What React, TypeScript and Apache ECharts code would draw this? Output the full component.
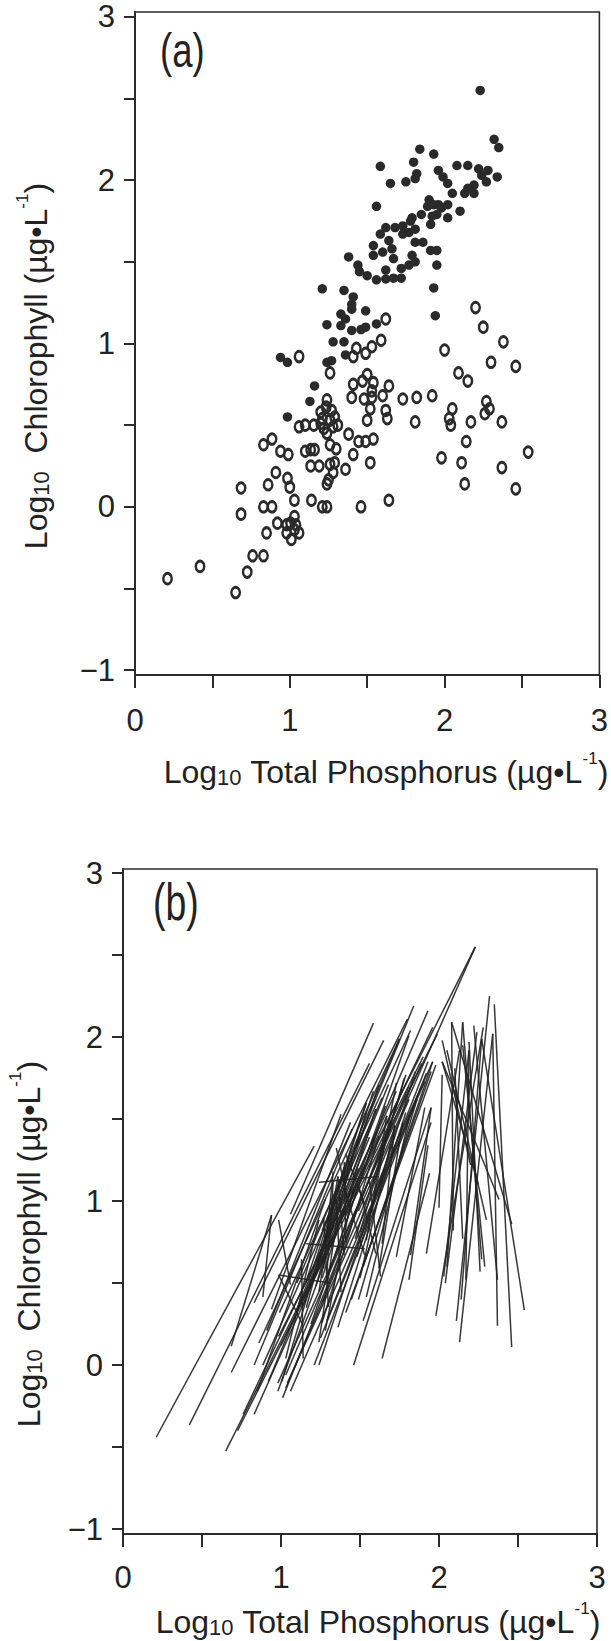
import React, { useEffect, useRef } from "react";
import * as echarts from "echarts";

// ---- Panel (a): filled circles (Log10 TP, Log10 Chl) ----
const filledTP = [
  2.23, 2.32, 2.35, 1.84, 1.93, 1.80, 1.585, 2.08, 2.15, 1.96, 1.82, 1.81, 1.99, 2.22, 2.28, 2.24, 2.34, 2.27, 2.02, 1.65,
  1.75, 2.19, 2.15, 2.13, 2.19, 2.05, 1.56, 1.90, 1.89, 1.93, 1.96, 2.02, 1.98, 2.10, 2.02, 1.85, 1.79, 1.78, 1.92, 1.95,
  1.91, 1.62, 1.585, 1.68, 1.73, 1.73, 1.77, 1.81, 1.64, 1.81, 1.86, 1.54, 1.54, 1.60, 1.66, 1.67, 1.91, 1.95, 1.79, 1.81,
  1.38, 1.44, 1.95, 1.45, 1.50, 1.56, 1.62, 1.67, 1.72, 1.62, 1.72, 1.77, 1.93, 1.94, 1.21, 1.35, 1.41, 1.40, 1.40, 1.49,
  1.33, 1.36, 1.24, 1.33, 1.40, 1.46, 1.49, 1.56, 1.28, 1.35, 1.36, 0.94, 0.985, 1.24, 1.27, 1.16, 1.13, 0.985,
];
const filledChl = [
  2.55, 2.25, 2.20, 2.19, 2.16, 2.11, 2.085, 2.09, 2.09, 2.06, 2.04, 2.01, 2.02, 2.07, 2.06, 2.03, 2.02, 1.99, 1.98, 1.98,
  1.99, 1.97, 1.95, 1.92, 1.92, 1.92, 1.84, 1.88, 1.84, 1.85, 1.85, 1.85, 1.83, 1.81, 1.77, 1.79, 1.77, 1.75, 1.78, 1.79,
  1.73, 1.71, 1.67, 1.71, 1.72, 1.67, 1.68, 1.70, 1.63, 1.62, 1.62, 1.60, 1.54, 1.56, 1.58, 1.52, 1.57, 1.57, 1.54, 1.50,
  1.53, 1.48, 1.48, 1.44, 1.415, 1.39, 1.395, 1.40, 1.40, 1.45, 1.46, 1.48, 1.34, 1.17, 1.335, 1.325, 1.285, 1.24, 1.21, 1.20,
  1.18, 1.15, 1.115, 1.11, 1.08, 1.085, 1.10, 1.12, 1.01, 1.01, 0.93, 0.915, 0.885, 0.885, 0.895, 0.74, 0.645, 0.55,
];

// ---- Panel (a): open circles (Log10 TP, Log10 Chl) ----
const openTP = [
  1.62, 1.59, 1.53, 1.49, 1.43, 1.41, 1.06, 1.26, 2.00, 2.20, 2.25, 2.38, 2.30, 2.46, 2.09, 2.15, 1.50, 1.47, 1.54, 1.41,
  1.64, 1.53, 1.53, 1.60, 1.40, 1.48, 1.73, 1.82, 1.92, 1.52, 1.62, 1.63, 1.50, 1.81, 2.05, 2.03, 2.04, 2.17, 2.27, 2.29,
  2.26, 2.37, 1.24, 1.235, 1.27, 1.20, 1.29, 1.26, 1.21, 1.06, 1.10, 1.155, 1.20, 1.22, 1.24, 1.28, 1.31, 0.83, 0.885, 0.94,
  0.99, 1.10, 1.135, 1.26, 1.30, 1.38, 1.445, 1.49, 1.54, 1.41, 1.52, 1.135, 1.19, 1.26, 1.29, 1.28, 1.25, 1.24, 1.36, 0.91,
  0.985, 1.00, 0.86, 0.685, 1.03, 1.14, 1.21, 1.24, 1.46, 1.64, 0.83, 0.885, 0.685, 1.03, 1.005, 1.04, 0.98, 0.92, 0.85, 0.98,
  1.06, 1.01, 1.03, 0.76, 0.83, 0.42, 0.21, 0.725, 0.65, 2.14, 1.98, 2.11, 2.13, 2.37, 2.54, 2.46, 1.16,
];
const openChl = [
  1.15, 1.02, 0.98, 0.94, 0.97, 0.92, 0.92, 0.82, 0.96, 1.22, 1.10, 1.01, 0.885, 0.86, 0.82, 0.77, 0.81, 0.77, 0.76, 0.75,
  0.74, 0.71, 0.67, 0.68, 0.67, 0.66, 0.66, 0.67, 0.68, 0.60, 0.59, 0.54, 0.53, 0.52, 0.60, 0.54, 0.50, 0.52, 0.645, 0.60,
  0.57, 0.52, 0.655, 0.61, 0.59, 0.58, 0.55, 0.53, 0.54, 0.49, 0.50, 0.50, 0.51, 0.48, 0.45, 0.49, 0.50, 0.38, 0.415, 0.34,
  0.32, 0.34, 0.35, 0.38, 0.355, 0.445, 0.40, 0.40, 0.415, 0.32, 0.27, 0.25, 0.25, 0.26, 0.27, 0.21, 0.165, 0.14, 0.23, 0.21,
  0.175, 0.12, 0.135, 0.115, 0.04, 0.04, 0.00, 0.00, 0.00, 0.04, 0.00, 0.00, -0.045, -0.06, -0.10, -0.11, -0.11, -0.10, -0.16, -0.16,
  -0.16, -0.20, -0.14, -0.30, -0.30, -0.365, -0.44, -0.40, -0.525, 0.40, 0.30, 0.27, 0.14, 0.24, 0.335, 0.11, 0.35,
];

// ---- Axis ticks / labels ----
const xTickValues = [0, 0.5, 1, 1.5, 2, 2.5, 3];
const xLabelValues = [0, 1, 2, 3];
const yTickValues = [-1, -0.5, 0, 0.5, 1, 1.5, 2, 2.5, 3];
const yLabelValues = [-1, 0, 1, 2, 3];

const panelLabels = ["(a)", "(b)"];
const xTitle = "{n|Log}{s|10}{n| Total Phosphorus (\u00b5g\u2022L}{p|-1}{n|)}";
const yTitle = "{n|Log}{s|10}{n|  Chlorophyll (\u00b5g\u2022L}{p|-1}{n|)}";

// Panel (b): each open-circle observation is linked to a filled-circle observation.
// High-TP / low-Chl open points link to the high-TP filled group (crossing lattice);
// the rest link by matching rank across the TP–Chl trend.
function buildLinks(): number[][] {
  const idx = (n: number) => Array.from({ length: n }, (_, i) => i);
  const isRO = (i: number) => openTP[i] >= 1.9 && openChl[i] < 1.3;
  const isRF = (i: number) => filledTP[i] >= 2.0 && filledChl[i] >= 1.75 && filledChl[i] < 2.4;
  const match = (o: number[], f: number[]) =>
    o.map((oi, r) => [oi, f[Math.round((r * (f.length - 1)) / Math.max(1, o.length - 1))]]);

  const ro = idx(openTP.length).filter(isRO).sort((a, b) => openChl[b] - openChl[a]);
  const rf = idx(filledTP.length).filter(isRF).sort((a, b) => filledTP[a] - filledTP[b]);

  const key = (tp: number, chl: number) => chl - 1.5 * tp;
  const mo = idx(openTP.length)
    .filter((i) => !isRO(i))
    .sort((a, b) => key(openTP[a], openChl[a]) - key(openTP[b], openChl[b]));
  const mf = idx(filledTP.length)
    .filter((i) => !isRF(i))
    .sort((a, b) => key(filledTP[a], filledChl[a]) - key(filledTP[b], filledChl[b]));

  return [...match(ro, rf), ...match(mo, mf)];
}

const TICK_FONT = "'Liberation Sans Narrow', 'Liberation Sans', Arial, sans-serif";
const TITLE_FONT = "'Liberation Sans', Arial, sans-serif";
const INK = "#2b2b2b";

function fmt(v: number) {
  return v < 0 ? "\u2212" + Math.abs(v) : String(v);
}

function xAxisCfg(gridIndex: number, margin: number) {
  return {
    type: "value",
    gridIndex,
    min: 0,
    max: 3,
    axisLine: { show: true, onZero: false, lineStyle: { color: INK, width: 2 } },
    axisTick: { show: true, inside: false, length: 13, customValues: xTickValues, lineStyle: { color: INK, width: 2 } },
    axisLabel: { customValues: xLabelValues, margin, fontSize: 31, lineHeight: 31, color: "#222", fontFamily: TICK_FONT, formatter: fmt },
    splitLine: { show: false },
  };
}
function yAxisCfg(gridIndex: number, max: number) {
  return {
    type: "value",
    gridIndex,
    min: -1.03,
    max,
    axisLine: { show: true, onZero: false, lineStyle: { color: INK, width: 2 } },
    axisTick: { show: true, inside: false, length: 11, customValues: yTickValues, lineStyle: { color: INK, width: 2 } },
    axisLabel: { customValues: yLabelValues, margin: 20, fontSize: 31, lineHeight: 28, color: "#222", fontFamily: TICK_FONT, formatter: fmt },
    splitLine: { show: false },
  };
}

function richStyle() {
  return {
    n: { fontSize: 32, fontFamily: TITLE_FONT, lineHeight: 38, verticalAlign: "bottom", fill: "#222", color: "#222" },
    s: { fontSize: 22, fontFamily: TITLE_FONT, lineHeight: 14, verticalAlign: "bottom", fill: "#222", color: "#222" },
    p: { fontSize: 17, fontFamily: TITLE_FONT, lineHeight: 36, verticalAlign: "top", fill: "#222", color: "#222" },
  };
}

function titleText(text: string, x: number, y: number, rotation: number) {
  return {
    type: "text",
    x,
    y,
    rotation,
    silent: true,
    style: {
      text,
      rich: richStyle(),
      fontSize: 32,
      fontFamily: TITLE_FONT,
      fill: "#222",
      textAlign: "center",
      textVerticalAlign: "middle",
      align: "center",
      verticalAlign: "middle",
    },
  };
}

function panelLabel(text: string, x: number, y: number, size: number, sx: number) {
  return {
    type: "text",
    x,
    y,
    scaleX: sx,
    silent: true,
    style: {
      text,
      fontSize: size,
      fontFamily: TITLE_FONT,
      fill: "#222",
      textAlign: "left",
      textVerticalAlign: "middle",
      align: "left",
      verticalAlign: "middle",
    },
  };
}

export default function App() {
  const ref = useRef<HTMLDivElement>(null);

  useEffect(() => {
    if (!ref.current) return;
    const chart = echarts.init(ref.current, null, { renderer: "svg" });
    const links = buildLinks();

    const option: any = {
      animation: false,
      backgroundColor: "#ffffff",
      grid: [
        { left: 135, top: 12, width: 472, height: 663, show: true, borderColor: INK, borderWidth: 1.6, backgroundColor: "transparent" },
        { left: 123, top: 869, width: 474, height: 665, show: true, borderColor: INK, borderWidth: 1.6, backgroundColor: "transparent" },
      ],
      xAxis: [xAxisCfg(0, 30), xAxisCfg(1, 28)],
      yAxis: [yAxisCfg(0, 3.03), yAxisCfg(1, 3.025)],
      series: [
        {
          type: "lines",
          coordinateSystem: "cartesian2d",
          xAxisIndex: 1,
          yAxisIndex: 1,
          silent: true,
          lineStyle: { color: "#222222", width: 1.5, opacity: 0.9 },
          data: links.map(([o, f]) => ({
            coords: [
              [openTP[o], openChl[o]],
              [filledTP[f], filledChl[f]],
            ],
          })),
        },
        {
          type: "scatter",
          xAxisIndex: 0,
          yAxisIndex: 0,
          silent: true,
          symbol: "circle",
          symbolSize: [8.5, 10.5],
          itemStyle: { color: "rgba(255,255,255,0)", borderColor: INK, borderWidth: 2.7, opacity: 1 },
          data: openTP.map((x, i) => [x, openChl[i]]),
        },
        {
          type: "scatter",
          xAxisIndex: 0,
          yAxisIndex: 0,
          silent: true,
          symbol: "circle",
          symbolSize: 9.5,
          itemStyle: { color: "#2a2a2a", opacity: 1 },
          data: filledTP.map((x, i) => [x, filledChl[i]]),
        },
      ],
      graphic: [
        panelLabel(panelLabels[0], 160, 50, 48, 0.76),
        panelLabel(panelLabels[1], 153, 902, 52, 0.72),
        titleText(xTitle, 386, 769, 0),
        titleText(xTitle, 378, 1619, 0),
        titleText(yTitle, 33, 366, Math.PI / 2),
        titleText(yTitle, 26, 1244, Math.PI / 2),
      ],
    };

    chart.setOption(option);
    return () => chart.dispose();
  }, []);

  return <div ref={ref} style={{ position: "absolute", left: 0, top: 0, width: 611, height: 1641, background: "#fff" }} />;
}
